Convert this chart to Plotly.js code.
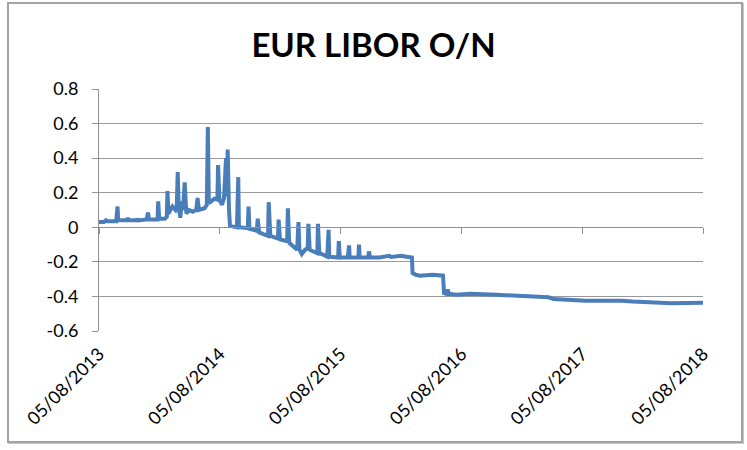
<!DOCTYPE html>
<html>
<head>
<meta charset="utf-8">
<script src="https://cdn.plot.ly/plotly-3.0.1.min.js"></script>
<style>
  html, body { margin: 0; padding: 0; background: #ffffff; }
  #wrap { position: relative; width: 747px; height: 450px; }
  #chart { position: absolute; left: 0; top: 0; width: 747px; height: 450px; }
  #frame { position: absolute; left: 7px; top: 2px; width: 736px; height: 441px; box-sizing: border-box;
           border: 2px solid #a3a3a3; box-shadow: 1px 1px 0 #c8c8c8; pointer-events: none; }
</style>
</head>
<body>
<div id="wrap">
  <div id="chart"></div>
  <div id="frame"></div>
</div>
<script>
const chartTitle = "EUR LIBOR O/N";

const dates = [
  "2013-08-05","2013-08-20","2013-08-26","2013-08-30","2013-09-26","2013-09-30","2013-10-02",
  "2013-10-29","2013-10-31","2013-11-02","2013-11-27","2013-11-29","2013-12-02","2013-12-27",
  "2013-12-31","2014-01-03","2014-01-29","2014-01-31","2014-02-03","2014-02-20","2014-02-26",
  "2014-02-28","2014-03-03","2014-03-10","2014-03-15","2014-03-24","2014-03-28","2014-03-31",
  "2014-04-03","2014-04-08","2014-04-12","2014-04-16","2014-04-21","2014-04-26","2014-05-05",
  "2014-05-15","2014-05-26","2014-05-30","2014-06-03","2014-06-20","2014-06-27","2014-06-30",
  "2014-07-03","2014-07-10","2014-07-20","2014-07-29","2014-07-31","2014-08-04","2014-08-12",
  "2014-08-18","2014-08-24","2014-08-26","2014-08-29","2014-09-02","2014-09-05","2014-09-12",
  "2014-09-26","2014-09-30","2014-10-02","2014-10-29","2014-10-31","2014-11-03","2014-11-25",
  "2014-11-28","2014-12-02","2014-12-15","2014-12-29","2014-12-31","2015-01-05","2015-01-20",
  "2015-01-28","2015-01-30","2015-02-03","2015-02-25","2015-02-27","2015-03-03","2015-03-15",
  "2015-03-27","2015-03-31","2015-04-03","2015-04-10","2015-04-20","2015-04-28","2015-04-30",
  "2015-05-04","2015-05-15","2015-05-27","2015-05-29","2015-06-02","2015-06-15","2015-06-26",
  "2015-06-30","2015-07-02","2015-07-29","2015-07-31","2015-08-03","2015-08-27","2015-08-31",
  "2015-09-02","2015-09-28","2015-09-30","2015-10-02","2015-10-28","2015-10-30","2015-11-03",
  "2015-11-30","2015-12-24","2015-12-31","2016-01-05","2016-01-25","2016-02-05","2016-02-20",
  "2016-03-08","2016-03-10","2016-03-20","2016-04-01","2016-04-20","2016-05-10","2016-06-10",
  "2016-06-13","2016-06-20","2016-06-24","2016-06-28","2016-07-20","2016-09-01","2016-10-10",
  "2016-11-20","2017-01-07","2017-03-01","2017-04-25","2017-05-10","2017-08-15","2017-12-01",
  "2018-01-05","2018-05-01","2018-08-05"
];

const rates = [
  0.03, 0.03, 0.04, 0.035, 0.035, 0.12, 0.04,
  0.04, 0.055, 0.04, 0.04, 0.05, 0.04, 0.045,
  0.085, 0.045, 0.045, 0.15, 0.05, 0.05, 0.06,
  0.21, 0.08, 0.10, 0.12, 0.10, 0.12, 0.32,
  0.11, 0.055, 0.15, 0.10, 0.26, 0.08, 0.10,
  0.09, 0.10, 0.17, 0.10, 0.11, 0.13, 0.58,
  0.14, 0.15, 0.165, 0.16, 0.36, 0.16, 0.13,
  0.17, 0.40, 0.18, 0.45, 0.10, 0.01, 0.005,
  0.0, 0.29, 0.0, -0.005, 0.12, -0.01, -0.02,
  0.05, -0.03, -0.04, -0.05, 0.145, -0.05, -0.06,
  -0.065, 0.045, -0.07, -0.08, 0.11, -0.09, -0.11,
  -0.13, 0.03, -0.13, -0.155, -0.13, -0.12, 0.02,
  -0.13, -0.14, -0.15, 0.02, -0.15, -0.16, -0.17,
  -0.015, -0.17, -0.175, -0.08, -0.175, -0.175, -0.105,
  -0.175, -0.175, -0.10, -0.175, -0.175, -0.14, -0.175,
  -0.175, -0.17, -0.165, -0.172, -0.17, -0.165, -0.17,
  -0.175, -0.265, -0.275, -0.28, -0.275, -0.275, -0.28,
  -0.38, -0.385, -0.36, -0.385, -0.39, -0.385, -0.39,
  -0.39, -0.395, -0.40, -0.405, -0.415, -0.425, -0.425,
  -0.43, -0.44, -0.437
];

const xTickVals = ["2013-08-05","2014-08-05","2015-08-05","2016-08-05","2017-08-05","2018-08-05"];
const xTickText = ["05/08/2013","05/08/2014","05/08/2015","05/08/2016","05/08/2017","05/08/2018"];
const yTickVals = [0.8, 0.6, 0.4, 0.2, 0, -0.2, -0.4, -0.6];
const yTickText = ["0.8", "0.6", "0.4", "0.2", "0", "-0.2", "-0.4", "-0.6"];
const xRange = ["2013-08-05", "2018-08-05"];
const yRange = [-0.6, 0.8];

const FONT = "Lato, Calibri, Carlito, 'Open Sans', sans-serif";

const trace = {
  type: "scatter",
  mode: "lines",
  x: dates,
  y: rates,
  xaxis: "x",
  yaxis: "y",
  line: { color: "#4a7ebb", width: 4 },
  hoverinfo: "x+y",
  showlegend: false
};

// invisible companion on the label axis so that the bottom date axis is drawn
const labelTrace = {
  type: "scatter",
  mode: "lines",
  x: dates,
  y: rates,
  xaxis: "x2",
  yaxis: "y",
  line: { color: "rgba(0,0,0,0)", width: 0 },
  hoverinfo: "skip",
  showlegend: false
};

const zeroPos = (0 - yRange[0]) / (yRange[1] - yRange[0]);

const layout = {
  width: 747,
  height: 450,
  paper_bgcolor: "rgba(0,0,0,0)",
  plot_bgcolor: "#ffffff",
  margin: { l: 99, r: 44, t: 89, b: 119 },
  showlegend: false,
  title: {
    text: "<b>" + chartTitle + "</b>",
    font: { family: FONT, size: 33, color: "#000000" },
    x: 0.5, xanchor: "center",
    y: 0.9, yref: "container", yanchor: "middle"
  },
  xaxis: {
    type: "date",
    range: xRange,
    anchor: "free",
    position: zeroPos,
    showgrid: false,
    zeroline: false,
    showline: true,
    linecolor: "#909090",
    linewidth: 1,
    ticks: "outside",
    ticklen: 6,
    tickcolor: "#909090",
    tickvals: xTickVals,
    ticktext: xTickText,
    showticklabels: false,
    fixedrange: true
  },
  xaxis2: {
    type: "date",
    range: xRange,
    overlaying: "x",
    anchor: "y",
    side: "bottom",
    showgrid: false,
    zeroline: false,
    showline: false,
    ticks: "",
    tickvals: xTickVals,
    ticktext: xTickText,
    tickangle: -45,
    ticklabelstandoff: 8,
    tickfont: { family: FONT, size: 18, color: "#000000" },
    fixedrange: true
  },
  yaxis: {
    range: yRange,
    tickvals: yTickVals,
    ticktext: yTickText,
    showgrid: true,
    gridcolor: "#999999",
    gridwidth: 1,
    zeroline: false,
    showline: true,
    linecolor: "#909090",
    linewidth: 1,
    ticks: "outside",
    ticklen: 6,
    tickcolor: "#909090",
    ticklabelstandoff: 10,
    tickfont: { family: FONT, size: 18, color: "#000000" },
    fixedrange: true
  }
};

Plotly.newPlot("chart", [labelTrace, trace], layout, { displayModeBar: false, staticPlot: true });
</script>
</body>
</html>
